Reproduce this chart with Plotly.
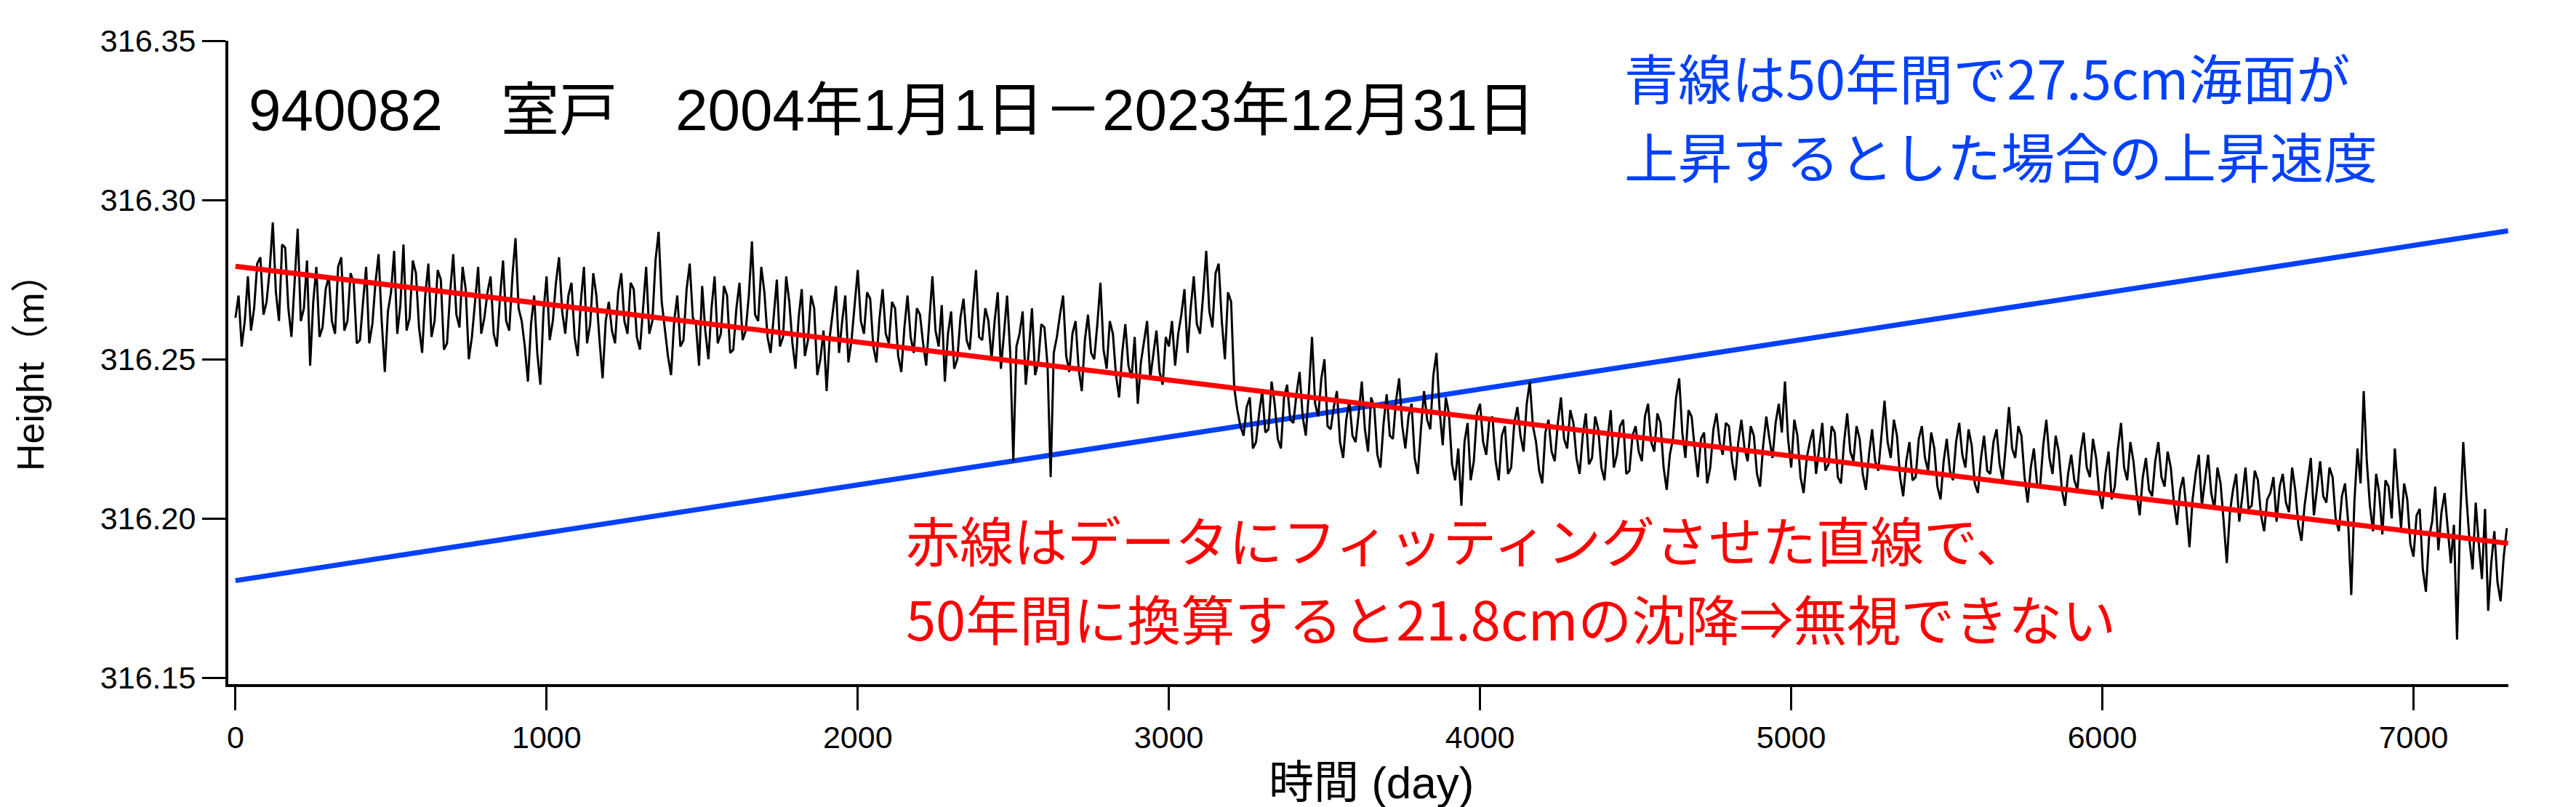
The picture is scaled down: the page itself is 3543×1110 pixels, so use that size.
import plotly.graph_objects as go

# ---- data ----
DAY_STEP = 10  # sampling interval (days) of the hand-read series
HEIGHT_MM_ABOVE_316 = [
    263, 270, 254, 262, 276, 259, 266, 280, 282, 264, 268, 278, 293, 271, 262, 286, 285, 266, 257, 275,
    291, 262, 266, 281, 248, 268, 279, 257, 260, 272, 276, 262, 258, 279, 282, 259, 262, 277, 274, 255,
    256, 268, 279, 255, 261, 274, 283, 262, 246, 265, 271, 284, 258, 267, 286, 259, 263, 281, 277, 260,
    252, 270, 280, 257, 262, 278, 275, 253, 255, 271, 283, 264, 260, 279, 272, 250, 257, 268, 279, 258,
    263, 271, 276, 258, 254, 269, 281, 262, 259, 276, 288, 266, 262, 254, 243, 261, 270, 252, 242, 265,
    276, 256, 262, 274, 282, 265, 258, 270, 274, 257, 251, 268, 279, 255, 261, 277, 270, 256, 244, 262,
    268, 259, 255, 271, 277, 262, 258, 274, 272, 257, 253, 266, 279, 258, 262, 281, 290, 268, 259, 251,
    245, 262, 270, 254, 256, 272, 280, 263, 261, 248, 273, 259, 250, 266, 276, 255, 258, 273, 270, 252,
    253, 266, 274, 256, 259, 270, 287, 264, 262, 279, 271, 257, 252, 264, 275, 254, 257, 276, 268, 255,
    247, 263, 272, 251, 256, 270, 266, 245, 250, 259, 240, 257, 265, 273, 252, 262, 270, 249, 256, 268,
    278, 262, 258, 271, 269, 254, 249, 263, 272, 258, 255, 268, 266, 251, 246, 260, 270, 257, 252, 266,
    264, 255, 248, 262, 276, 259, 254, 267, 243, 258, 265, 247, 250, 263, 269, 256, 253, 266, 278, 257,
    256, 266, 262, 250, 262, 271, 247, 258, 270, 252, 218, 254, 258, 265, 242, 253, 266, 245, 249, 261,
    260, 248, 213, 252, 257, 264, 270, 251, 246, 258, 262, 247, 240, 256, 264, 252, 250, 261, 274, 253,
    247, 262, 258, 245, 238, 252, 261, 248, 244, 257, 236, 249, 256, 262, 244, 251, 259, 246, 242, 257,
    254, 262, 248, 258, 264, 272, 252, 266, 276, 261, 258, 270, 284, 265, 260, 277, 280, 262, 250, 271,
    268, 241, 234, 229, 226, 235, 238, 222, 224, 233, 240, 227, 228, 243, 236, 225, 222, 238, 242, 231,
    230, 239, 246, 232, 226, 240, 257, 236, 232, 244, 250, 229, 228, 235, 240, 224, 219, 231, 237, 226,
    224, 233, 243, 228, 221, 238, 235, 220, 216, 230, 239, 226, 225, 237, 244, 229, 222, 232, 236, 219,
    214, 228, 240, 231, 228, 245, 252, 234, 223, 238, 233, 217, 212, 222, 204, 224, 230, 212, 218, 233,
    236, 224, 220, 231, 232, 218, 212, 226, 229, 214, 216, 230, 235, 226, 221, 236, 243, 229, 224, 215,
    211, 227, 231, 221, 218, 230, 238, 225, 222, 234, 230, 219, 214, 226, 233, 217, 219, 232, 228, 216,
    212, 225, 234, 216, 220, 229, 231, 214, 215, 226, 229, 221, 218, 232, 236, 224, 221, 233, 230, 216,
    209, 220, 225, 238, 244, 227, 219, 234, 232, 222, 213, 225, 227, 211, 216, 228, 233, 224, 220, 230,
    229, 218, 212, 224, 231, 222, 218, 229, 226, 214, 210, 223, 232, 225, 219, 230, 236, 227, 243, 225,
    216, 231, 226, 213, 208, 219, 224, 228, 214, 222, 230, 215, 217, 229, 227, 213, 211, 224, 233, 221,
    218, 229, 225, 214, 209, 220, 228, 218, 215, 226, 237, 224, 219, 231, 226, 213, 207, 218, 224, 212,
    213, 225, 229, 219, 215, 227, 222, 210, 206, 218, 225, 215, 212, 224, 230, 220, 216, 228, 223, 211,
    208, 219, 226, 215, 214, 224, 228, 217, 212, 223, 235, 222, 219, 229, 226, 213, 205, 216, 222, 211,
    210, 223, 231, 219, 214, 226, 221, 209, 204, 214, 220, 212, 209, 221, 227, 216, 213, 225, 219, 208,
    203, 214, 221, 206, 210, 222, 230, 216, 212, 224, 218, 208, 201, 213, 219, 209, 207, 218, 224, 213,
    210, 221, 216, 205, 198, 209, 213, 203, 191, 206, 214, 220, 204, 212, 220, 208, 203, 216, 211, 199,
    186, 202, 209, 214, 199, 207, 216, 203, 204, 215, 212, 201, 196, 206, 208, 213, 199, 210, 214, 205,
    202, 216, 209, 198, 193, 204, 212, 219, 201, 209, 218, 207, 205, 216, 213, 200, 196, 207, 211, 199,
    176, 205, 222, 211, 240, 218, 204, 196, 214, 208, 195, 212, 210, 200, 222, 209, 197, 211, 206, 192,
    188, 201, 203, 184, 177, 194, 199, 210, 190, 202, 208, 197, 186, 198, 162, 200, 224, 207, 193, 184,
    205, 192, 181, 203, 171, 186, 196, 180, 174, 188, 197,
]
FIT_DAYS = [0, 7304]
RED_FIT_HEIGHT = [316.2792, 316.1922]      # fitted line (data trend)
BLUE_RISE_HEIGHT = [316.1805, 316.2903]    # 27.5 cm / 50 yr rise
X_TICKS = [0, 1000, 2000, 3000, 4000, 5000, 6000, 7000]
Y_TICKS = [316.15, 316.20, 316.25, 316.30, 316.35]
Y_TICK_TEXT = ["316.15", "316.20", "316.25", "316.30", "316.35"]

TITLE_TEXT = "940082\u3000室戸\u30002004年1月1日－2023年12月31日"
BLUE_LINES = ["青線は50年間で27.5cm海面が", "上昇するとした場合の上昇速度"]
RED_LINES = ["赤線はデータにフィッティングさせた直線で、", "50年間に換算すると21.8cmの沈降⇒無視できない"]
X_TITLE = "時間 (day)"
Y_TITLE = "Height（m）"

days = [i * DAY_STEP for i in range(len(HEIGHT_MM_ABOVE_316))]
heights = [316 + v / 1000.0 for v in HEIGHT_MM_ABOVE_316]

BLUE = "#0040ff"
RED = "#ff0000"
LAT = "Liberation Sans, Arial, sans-serif"
JP = "Noto Sans CJK JP, sans-serif"
MIX = "Liberation Sans, Noto Sans CJK JP, sans-serif"

fig = go.Figure()
fig.add_trace(go.Scatter(x=FIT_DAYS, y=BLUE_RISE_HEIGHT, mode="lines",
                         line=dict(color=BLUE, width=7), showlegend=False))
fig.add_trace(go.Scatter(x=days, y=heights, mode="lines",
                         line=dict(color="black", width=3), showlegend=False))
fig.add_trace(go.Scatter(x=FIT_DAYS, y=RED_FIT_HEIGHT, mode="lines",
                         line=dict(color=RED, width=7), showlegend=False))

L, R, T, B = 306, 101, 48, 177
W, H = 3543, 1110
pw, ph = W - L - R, H - T - B


def px(x):
    return (x - L) / pw


def py(y):
    return (H - B - y) / ph


NOTE_SIZE = 74
ann = []
ann.append(dict(text=TITLE_TEXT, x=px(332), y=py(143), xanchor="left", yanchor="middle",
                font=dict(family=MIX, size=80, color="black")))
for txt, yy in zip(BLUE_LINES, [96, 204]):
    ann.append(dict(text=txt, x=px(2224), y=py(yy), xanchor="left", yanchor="middle",
                    font=dict(family=JP, size=NOTE_SIZE, color=BLUE)))
for txt, yy in zip(RED_LINES, [732, 840]):
    ann.append(dict(text=txt, x=px(1236), y=py(yy), xanchor="left", yanchor="middle",
                    font=dict(family=JP, size=NOTE_SIZE, color=RED)))
ann.append(dict(text=X_TITLE, x=px(1878), y=py(1068), xanchor="center", yanchor="middle",
                font=dict(family=MIX, size=62, color="black")))
ann.append(dict(text=Y_TITLE, x=px(34), y=py(491), xanchor="center", yanchor="middle",
                textangle=-90, font=dict(family=MIX, size=52, color="black")))
for a in ann:
    a.update(xref="paper", yref="paper", showarrow=False)

fig.update_layout(
    width=W, height=H,
    margin=dict(l=L, r=R, t=T, b=B, pad=0),
    paper_bgcolor="white", plot_bgcolor="white",
    annotations=ann,
    xaxis=dict(range=[-23, 7305], tickvals=X_TICKS, ticks="outside", ticklen=32, tickwidth=3,
               tickcolor="black", showline=True, linecolor="black", linewidth=4,
               showgrid=False, zeroline=False, tickfont=dict(family=LAT, size=43, color="black")),
    yaxis=dict(range=[316.148, 316.35], tickvals=Y_TICKS, ticktext=Y_TICK_TEXT, ticks="outside",
               ticklen=32, tickwidth=3, tickcolor="black", showline=True, linecolor="black",
               linewidth=4, showgrid=False, zeroline=False,
               tickfont=dict(family=LAT, size=43, color="black")),
)

fig.write_html("out.html")
